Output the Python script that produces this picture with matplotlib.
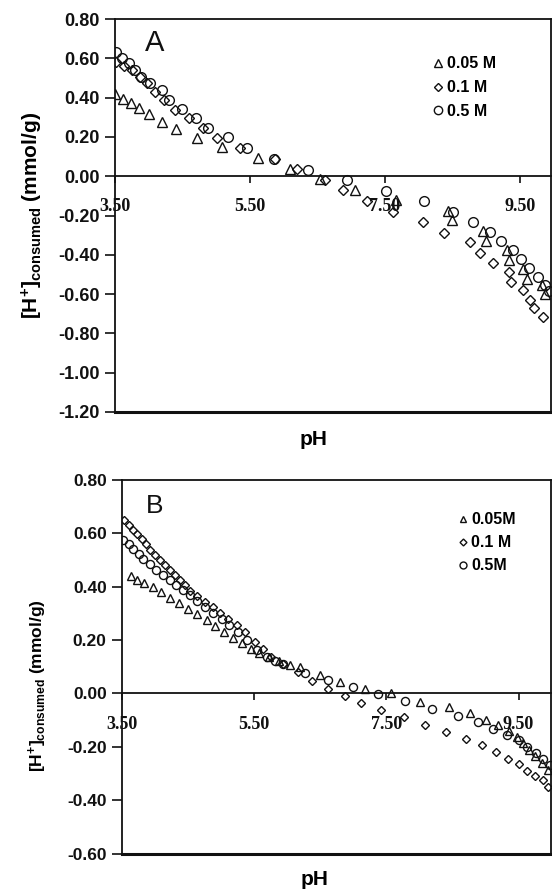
import matplotlib
matplotlib.use("Agg")
import matplotlib.pyplot as plt
from matplotlib.lines import Line2D

plt.rcParams['font.family'] = ['Liberation Sans', 'DejaVu Sans']
plt.rcParams['mathtext.fontset'] = 'custom'
plt.rcParams['mathtext.rm'] = 'Liberation Sans:bold'
plt.rcParams['mathtext.bf'] = 'Liberation Sans:bold'
plt.rcParams['mathtext.it'] = 'Liberation Sans:bold'

# ---------------- Panel A data ----------------
ph_a_005 = [3.50, 3.62, 3.73, 3.86, 4.01, 4.19, 4.41, 4.71, 5.09, 5.62, 6.09, 6.54, 7.06, 7.67,
            8.43, 8.49, 8.95, 9.00, 9.30, 9.34, 9.55, 9.60, 9.82, 9.87]
h_a_005 = [0.417, 0.395, 0.373, 0.348, 0.314, 0.276, 0.238, 0.195, 0.149, 0.093, 0.039, -0.015,
           -0.068, -0.122, -0.176, -0.224, -0.278, -0.329, -0.377, -0.427, -0.470, -0.521, -0.555, -0.597]

ph_a_01 = [3.52, 3.63, 3.75, 3.87, 3.98, 4.09, 4.22, 4.39, 4.59, 4.81, 5.01, 5.35, 5.87, 6.19, 6.61,
           6.88, 7.23, 7.62, 8.06, 8.37, 8.76, 8.91, 9.10, 9.34, 9.36, 9.54, 9.65, 9.70, 9.84]
h_a_01 = [0.582, 0.561, 0.539, 0.505, 0.472, 0.429, 0.387, 0.339, 0.294, 0.246, 0.195, 0.144, 0.090,
          0.036, -0.020, -0.071, -0.127, -0.182, -0.233, -0.288, -0.337, -0.393, -0.441, -0.490,
          -0.538, -0.580, -0.628, -0.673, -0.716]

ph_a_05 = [3.52, 3.61, 3.71, 3.80, 3.88, 4.02, 4.19, 4.30, 4.49, 4.70, 4.88, 5.18, 5.46, 5.85, 6.36,
           6.94, 7.51, 8.08, 8.50, 8.80, 9.05, 9.22, 9.39, 9.52, 9.64, 9.76, 9.87, 9.93]
h_a_05 = [0.633, 0.604, 0.577, 0.543, 0.505, 0.472, 0.438, 0.390, 0.344, 0.294, 0.246, 0.197, 0.141,
          0.087, 0.034, -0.020, -0.075, -0.127, -0.182, -0.233, -0.283, -0.329, -0.377, -0.422,
          -0.467, -0.512, -0.555, -0.584]

# ---------------- Panel B data ----------------
ph_b_005 = [3.63, 3.73, 3.84, 3.97, 4.09, 4.22, 4.36, 4.50, 4.64, 4.78, 4.90, 5.04, 5.18, 5.32, 5.45,
            5.58, 5.72, 5.88, 6.04, 6.19, 6.50, 6.80, 7.18, 7.57, 8.01, 8.44, 8.76, 9.01, 9.19, 9.36,
            9.47, 9.56, 9.65, 9.75, 9.85, 9.95]
h_b_005 = [0.439, 0.427, 0.414, 0.399, 0.380, 0.359, 0.339, 0.318, 0.296, 0.274, 0.251, 0.230, 0.209,
           0.189, 0.168, 0.151, 0.138, 0.120, 0.108, 0.099, 0.068, 0.042, 0.018, 0.001, -0.032,
           -0.051, -0.074, -0.099, -0.120, -0.141, -0.164, -0.186, -0.211, -0.236, -0.262, -0.286]

ph_b_01 = [3.53, 3.60, 3.66, 3.73, 3.80, 3.86, 3.93, 4.00, 4.07, 4.15, 4.23, 4.30, 4.38, 4.45, 4.53,
           4.64, 4.76, 4.87, 4.98, 5.11, 5.24, 5.36, 5.51, 5.63, 5.76, 5.94, 6.17, 6.38, 6.61, 6.88,
           7.11, 7.42, 7.76, 8.08, 8.40, 8.70, 8.94, 9.16, 9.34, 9.50, 9.62, 9.75, 9.87, 9.95]
h_b_01 = [0.649, 0.630, 0.614, 0.596, 0.577, 0.559, 0.539, 0.520, 0.502, 0.483, 0.462, 0.443, 0.424,
          0.405, 0.384, 0.364, 0.343, 0.324, 0.301, 0.280, 0.258, 0.230, 0.192, 0.165, 0.136, 0.109,
          0.080, 0.045, 0.018, -0.011, -0.035, -0.061, -0.089, -0.118, -0.145, -0.170, -0.195,
          -0.218, -0.245, -0.266, -0.289, -0.308, -0.326, -0.352]

ph_b_05 = [3.52, 3.60, 3.67, 3.75, 3.82, 3.92, 4.02, 4.12, 4.22, 4.32, 4.42, 4.53, 4.64, 4.76, 4.88,
           5.01, 5.12, 5.26, 5.39, 5.54, 5.70, 5.82, 5.94, 6.27, 6.62, 7.00, 7.38, 7.78, 8.19, 8.59,
           8.89, 9.12, 9.32, 9.50, 9.63, 9.76, 9.87, 9.97]
h_b_05 = [0.574, 0.559, 0.543, 0.524, 0.505, 0.484, 0.464, 0.443, 0.424, 0.405, 0.386, 0.368, 0.346,
          0.324, 0.301, 0.280, 0.255, 0.230, 0.199, 0.161, 0.135, 0.122, 0.111, 0.076, 0.051, 0.024,
          -0.001, -0.029, -0.057, -0.083, -0.108, -0.132, -0.154, -0.176, -0.201, -0.224, -0.245, -0.270]

x_ticks = [3.5, 5.5, 7.5, 9.5]
x_tick_labels = ['3.50', '5.50', '7.50', '9.50']
yticks_a = [0.8, 0.6, 0.4, 0.2, 0.0, -0.2, -0.4, -0.6, -0.8, -1.0, -1.2]
yticks_b = [0.8, 0.6, 0.4, 0.2, 0.0, -0.2, -0.4, -0.6]
labels_a = ['0.05 M', '0.1 M', '0.5 M']
labels_b = ['0.05M', '0.1 M', '0.5M']

W, H = 552, 891
fig = plt.figure(figsize=(W / 100, H / 100), dpi=100)
ax1 = fig.add_axes([115 / W, 1 - 412 / H, 436 / W, 393 / H])
ax2 = fig.add_axes([122 / W, 1 - 853.5 / H, 429 / W, 373.5 / H])

K = '#111111'


def style(ax, xmax, ylo, yhi, yticks, ytfs, xtfs, ylfs, ylab_xy, letter, letter_xy, lfs):
    ax.set_xlim(3.5, xmax)
    ax.set_ylim(ylo, yhi)
    for s in ax.spines.values():
        s.set_linewidth(1.3)
        s.set_color(K)
    ax.spines['bottom'].set_position(('data', 0))
    ax.axhline(ylo, color=K, lw=2.2, clip_on=False, zorder=3)
    ax.set_xticks(x_ticks)
    ax.set_xticklabels(x_tick_labels, family='Liberation Serif', fontweight='bold', fontsize=xtfs)
    ax.set_yticks(yticks)
    ax.set_yticklabels(['%.2f' % v for v in yticks], fontweight='bold', fontsize=ytfs, color='#222222')
    ax.tick_params(axis='x', direction='out', length=5, width=1.2, pad=11, colors=K)
    ax.tick_params(axis='y', direction='out', length=7, width=1.2, pad=4, colors=K)
    ax.set_ylabel(r'$\mathregular{[H^{+}]_{consumed}}$ (mmol/g)', fontweight='bold', fontsize=ylfs)
    ax.yaxis.set_label_coords(ylab_xy[0], ylab_xy[1], transform=ax.transAxes)
    ax.text(letter_xy[0], letter_xy[1], letter, transform=ax.transAxes, fontsize=lfs,
            ha='center', va='center', color=K)


def scatter(ax, ph, h, marker, ms):
    ax.plot(ph, h, ls='none', marker=marker, ms=ms, mfc='none', mec=K, mew=1.0, clip_on=True)


# Panel A
scatter(ax1, ph_a_005, h_a_005, '^', 7)
scatter(ax1, ph_a_01, h_a_01, 'D', 4.8)
scatter(ax1, ph_a_05, h_a_05, 'o', 7)
style(ax1, 3.5 + 436 / 67.5, -1.2, 0.8, yticks_a, 13, 13, 15, (-0.16, 0.50), 'A', (0.09, 0.94), 21)
ax1.set_xlabel('pH', fontweight='bold', fontsize=15)
ax1.xaxis.set_label_coords(0.455, -0.045)
hA = [Line2D([], [], ls='none', marker='^', ms=6, mfc='none', mec=K, mew=1.0),
      Line2D([], [], ls='none', marker='D', ms=4, mfc='none', mec=K, mew=1.0),
      Line2D([], [], ls='none', marker='o', ms=6, mfc='none', mec=K, mew=1.0)]
ax1.legend(hA, labels_a, loc='center left', bbox_to_anchor=(0.71, 0.825), frameon=False,
           handlelength=0.7, handletextpad=0.2, labelspacing=0.55, borderpad=0,
           prop={'weight': 'bold', 'size': 11.5})

# Panel B
scatter(ax2, ph_b_005, h_b_005, '^', 5.5)
scatter(ax2, ph_b_01, h_b_01, 'D', 4.0)
scatter(ax2, ph_b_05, h_b_05, 'o', 5.8)
style(ax2, 3.5 + 429 / 66.1, -0.6, 0.8, yticks_b, 12.5, 13, 12.5, (-0.17, 0.45), 'B', (0.075, 0.93), 19)
ax2.set_xlabel('pH', fontweight='bold', fontsize=15)
ax2.xaxis.set_label_coords(0.448, -0.045)
hB = [Line2D([], [], ls='none', marker='^', ms=5, mfc='none', mec=K, mew=1.0),
      Line2D([], [], ls='none', marker='D', ms=3.5, mfc='none', mec=K, mew=1.0),
      Line2D([], [], ls='none', marker='o', ms=5, mfc='none', mec=K, mew=1.0)]
ax2.legend(hB, labels_b, loc='center left', bbox_to_anchor=(0.765, 0.832), frameon=False,
           handlelength=0.6, handletextpad=0.2, labelspacing=0.5, borderpad=0,
           prop={'weight': 'bold', 'size': 11.5})

fig.savefig('out.png', dpi=100)
